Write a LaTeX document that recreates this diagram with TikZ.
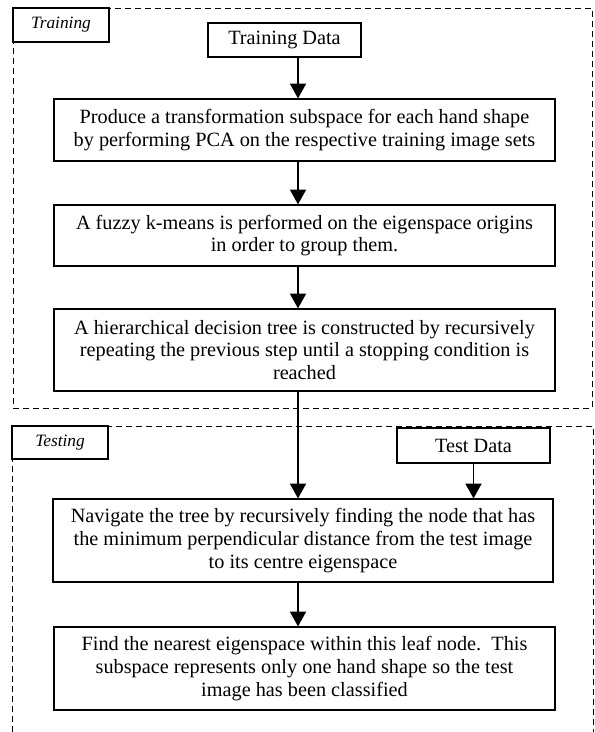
\documentclass[tikz,border=0pt]{standalone}
\usepackage{fontspec}
\setmainfont{Liberation Serif}
\usetikzlibrary{arrows.meta}
\begin{document}
\begin{tikzpicture}[x=0.75pt, y=-0.75pt,
  stepbox/.style={draw, rectangle, line width=0.9pt, inner sep=0pt, align=center,
    font=\fontsize{15.2}{17}\selectfont},
  stagelabel/.style={draw, rectangle, line width=0.9pt, inner sep=0pt, fill=white,
    font=\fontsize{13}{15}\selectfont\itshape},
  region/.style={dashed, dash pattern=on 4.5pt off 3pt, line width=0.75pt},
  flow/.style={-{Triangle[length=11pt, width=12pt]}, line width=0.9pt}]
\useasboundingbox (0,0) rectangle (594,732);
% dashed regions
\draw[region] (13,8) rectangle (592,408);
\draw[region] (12,732) -- (12,426) -- (593,426) -- (593,732);
\node[stagelabel, minimum width=72pt, minimum height=25.5pt] (trainlab) at (61,25) {Training};
\node[stagelabel, minimum width=72pt, minimum height=24.75pt] (testlab) at (60,442.5) {Testing};
% training
\node[stepbox, minimum width=114.75pt, minimum height=25.5pt] (tdata) at (284.5,40) {Training Data};
\node[stepbox, minimum width=375.75pt, minimum height=46.5pt] (prod) at (304.5,130)
  {Produce a transformation subspace for each hand shape\\by performing PCA on the respective training image sets};
\node[stepbox, minimum width=375.75pt, minimum height=45.75pt] (fuzzy) at (304.5,235.5)
  {A fuzzy k-means is performed on the eigenspace origins\\in order to group them.};
\node[stepbox, minimum width=375.75pt, minimum height=61.5pt] (tree) at (304.5,350)
  {A hierarchical decision tree is constructed by recursively\\repeating the previous step until a stopping condition is\\reached};
% testing
\node[stepbox, minimum width=114.75pt, minimum height=26.25pt] (tstdata) at (473.5,445.5) {Test Data};
\node[stepbox, minimum width=375pt, minimum height=62.25pt] (nav) at (303,540.5)
  {Navigate the tree by recursively finding the node that has\\the minimum perpendicular distance from the test image\\to its centre eigenspace};
\node[stepbox, minimum width=375.75pt, minimum height=62.25pt] (leaf) at (304.5,668.5)
  {Find the nearest eigenspace within this leaf node.\ \ This\\subspace represents only one hand shape so the test\\image has been classified};
\coordinate (ax) at (298,0);
\draw[flow] (tdata.south -| ax) -- (prod.north -| ax);
\draw[flow] (prod.south -| ax) -- (fuzzy.north -| ax);
\draw[flow] (fuzzy.south -| ax) -- (tree.north -| ax);
\draw[flow] (tree.south -| ax) -- (nav.north -| ax);
\draw[flow] (tstdata) -- (tstdata |- nav.north);
\draw[flow] (nav.south -| ax) -- (leaf.north -| ax);
\end{tikzpicture}
\end{document}
